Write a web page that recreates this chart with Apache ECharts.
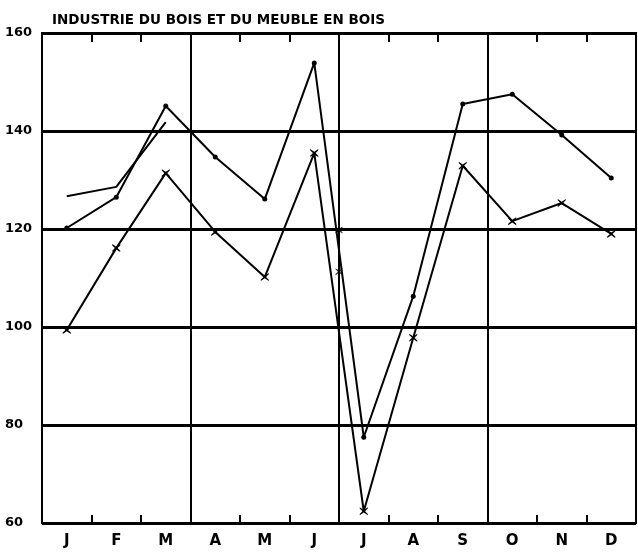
<!DOCTYPE html>
<html>
<head>
<meta charset="utf-8">
<script src="https://cdn.jsdelivr.net/npm/echarts@6/dist/echarts.min.js"></script>
<style>html,body{margin:0;padding:0;background:#fff;}#c{width:638px;height:554px;}</style>
</head>
<body>
<div id="c"></div>
<script>
const titleText = 'INDUSTRIE DU BOIS ET DU MEUBLE EN BOIS';
const monthKeys = ['jan','feb','mar','apr','may','jun','jul','aug','sep','oct','nov','dec'];
const monthLabels = ['J','F','M','A','M','J','J','A','S','O','N','D'];
const yTicks = [60, 80, 100, 120, 140, 160];
// upper series (dot markers)
const seriesDots = [120.2, 126.5, 145.1, 134.7, 126.1, 153.9, 77.5, 106.3, 145.5, 147.5, 139.2, 130.4];
// lower series (cross markers)
const seriesCross = [99.4, 116.1, 131.4, 119.4, 110.2, 135.5, 62.4, 97.8, 132.9, 121.6, 125.3, 119.0];
// partial line (no markers)
const seriesPartial = [126.7, 128.6, 141.8, null, null, null, null, null, null, null, null, null];
// stray marks on the June/July boundary
const boundaryMarks = [[6, 119.8], [6, 111.3]];

const chart = echarts.init(document.getElementById('c'));
const crossPath = 'path://M0,0 L3,2 L6,0 L6,1 L4,3 L6,5 L6,6 L3,4 L0,6 L0,5 L2,3 L0,1 Z';
const bold = {fontFamily: 'DejaVu Sans', fontWeight: 'bold', color: '#000'};
chart.setOption({
  backgroundColor: '#fff',
  animation: false,
  title: {
    text: titleText, left: 47, top: 8,
    textStyle: Object.assign({fontSize: 13.5}, bold)
  },
  grid: {left: 42, right: 2, top: 33, bottom: 31, show: true, borderColor: '#000', borderWidth: 2, backgroundColor: 'transparent'},
  xAxis: [
    {
      type: 'category', data: monthKeys, position: 'bottom', boundaryGap: true,
      axisLine: {show: true, lineStyle: {color: '#000', width: 2}},
      axisTick: {show: true, inside: true, length: 8, lineStyle: {color: '#000', width: 2}},
      axisLabel: Object.assign({fontSize: 15, margin: 11, formatter: (v, i) => monthLabels[i]}, bold),
      splitLine: {show: false}
    },
    {
      type: 'category', data: monthKeys, position: 'top', boundaryGap: true,
      axisLine: {show: true, lineStyle: {color: '#000', width: 2}},
      axisTick: {show: true, inside: true, length: 9, lineStyle: {color: '#000', width: 2}},
      axisLabel: {show: false},
      splitLine: {show: false}
    },
    {
      type: 'value', min: 0, max: 12, interval: 3, position: 'bottom', show: true,
      axisLine: {show: false}, axisTick: {show: false}, axisLabel: {show: false},
      splitLine: {show: true, lineStyle: {color: '#000', width: 2}}
    }
  ],
  yAxis: {
    type: 'value', min: yTicks[0], max: yTicks[yTicks.length - 1], interval: 20,
    axisLine: {show: true, lineStyle: {color: '#000', width: 2}},
    axisTick: {show: false},
    axisLabel: Object.assign({fontSize: 13, margin: 37, align: 'left'}, bold),
    splitLine: {show: true, lineStyle: {color: '#000', width: 3}}
  },
  series: [
    {
      type: 'line', xAxisIndex: 0, data: seriesDots,
      symbol: 'circle', symbolSize: 5, showSymbol: true,
      lineStyle: {color: '#000', width: 2}, itemStyle: {color: '#000'}
    },
    {
      type: 'line', xAxisIndex: 0, data: seriesCross,
      symbol: crossPath, symbolSize: 8, showSymbol: true,
      lineStyle: {color: '#000', width: 2}, itemStyle: {color: '#000'}
    },
    {
      type: 'line', xAxisIndex: 0, data: seriesPartial,
      symbol: 'none', connectNulls: false,
      lineStyle: {color: '#000', width: 2}
    },
    {
      type: 'scatter', xAxisIndex: 2, data: boundaryMarks,
      symbol: crossPath, symbolSize: 7, itemStyle: {color: '#000'}
    }
  ]
});
</script>
</body>
</html>
